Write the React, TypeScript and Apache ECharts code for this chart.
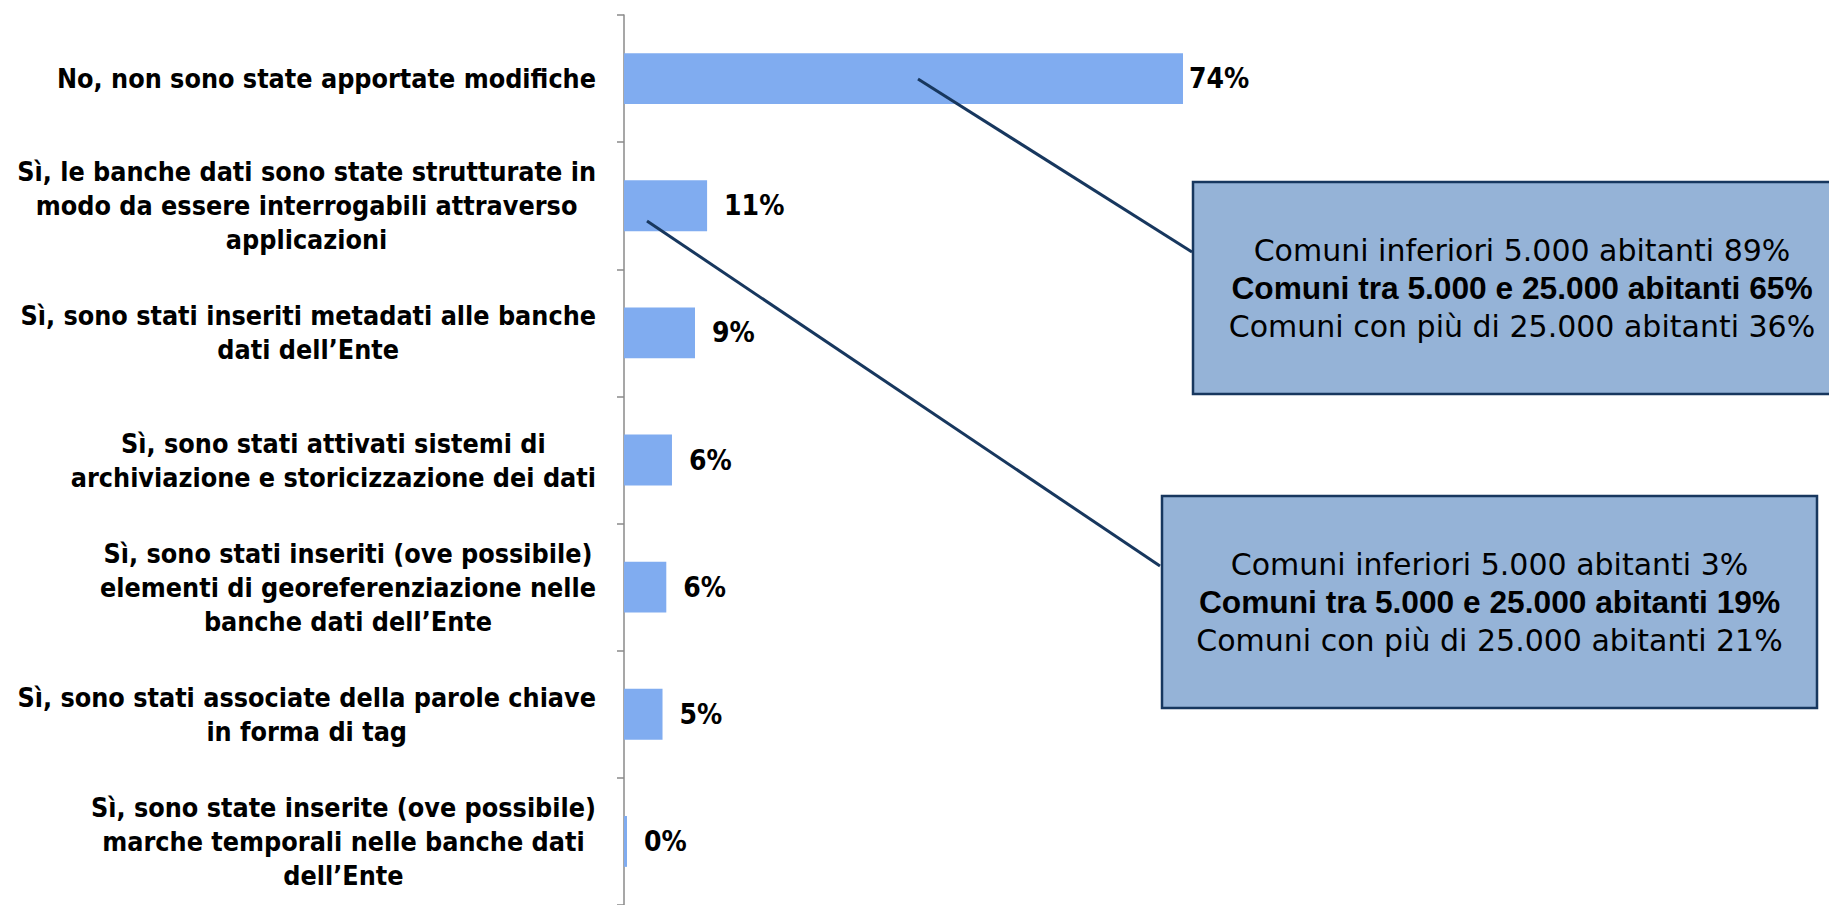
import React, { useEffect, useRef } from "react";
import * as echarts from "echarts";

const categories = [
  "No, non sono state apportate modifiche",
  "Sì, le banche dati sono state strutturate in\nmodo da essere interrogabili attraverso\napplicazioni",
  "Sì, sono stati inseriti metadati alle banche\ndati dell’Ente",
  "Sì, sono stati attivati sistemi di\narchiviazione e storicizzazione dei dati",
  "Sì, sono stati inseriti (ove possibile)\nelementi di georeferenziazione nelle\nbanche dati dell’Ente",
  "Sì, sono stati associate della parole chiave\nin forma di tag",
  "Sì, sono state inserite (ove possibile)\nmarche temporali nelle banche dati\ndell’Ente",
];
const values = [74, 11, 9.4, 6.35, 5.6, 5.1, 0.4];

const groupLabels = [
  "Comuni inferiori 5.000 abitanti",
  "Comuni tra 5.000 e 25.000 abitanti",
  "Comuni con più di 25.000 abitanti",
];
const box1Values = [89, 65, 36];
const box2Values = [3, 19, 21];

const LABEL_FONT = "'DejaVu Sans Condensed', 'DejaVu Sans', sans-serif";
const BOX_FONT = "'DejaVu Sans', sans-serif";
const BOLD_FONT = "'Liberation Sans', Arial, sans-serif";

function boxText(vals: number[]) {
  return vals
    .map((v, i) => (i === 1 ? `{b|${groupLabels[i]} ${v}%}` : `{r|${groupLabels[i]} ${v}%}`))
    .join("\n");
}

const boxRich = {
  r: { fontFamily: BOX_FONT, fontSize: 30, color: "#000", align: "center", lineHeight: 38 },
  b: { fontFamily: BOLD_FONT, fontSize: 31.7, fontWeight: "bold", color: "#000", align: "center", lineHeight: 38 },
};

export default function App() {
  const ref = useRef<HTMLDivElement>(null);
  useEffect(() => {
    if (!ref.current) return;
    const chart = echarts.init(ref.current, undefined, { renderer: "svg" });
    chart.setOption({
      animation: false,
      backgroundColor: "#ffffff",
      grid: { left: 624, top: 15, width: 755.4, height: 894, containLabel: false },
      xAxis: { type: "value", min: 0, max: 100, show: false },
      yAxis: {
        type: "category",
        inverse: true,
        data: categories,
        axisLine: { show: true, lineStyle: { color: "#8a8a8a", width: 1.5 } },
        axisTick: { show: true, length: 7, lineStyle: { color: "#8a8a8a", width: 1.5 } },
        splitLine: { show: false },
        axisLabel: {
          margin: 28,
          align: "right",
          formatter: (v: string) => `{c|${v}}`,
          rich: {
            c: {
              fontFamily: LABEL_FONT,
              fontSize: 26.7,
              fontWeight: "bold",
              color: "#000",
              align: "center",
              lineHeight: 34,
            },
          },
        },
      },
      series: [
        {
          type: "bar",
          barWidth: "40%",
          data: values.map((v, i) => ({
            value: v,
            label: i === 0 ? { distance: 6 } : undefined,
          })),
          itemStyle: { color: "#80acf0" },
          label: {
            show: true,
            position: "right",
            distance: 17,
            formatter: (p: any) => `${Math.round(p.value)}%`,
            fontFamily: LABEL_FONT,
            fontSize: 28,
            fontWeight: "bold",
            color: "#000",
          },
        },
      ],
      graphic: [
        {
          type: "line",
          z: 100,
          shape: { x1: 918, y1: 79, x2: 1192, y2: 252 },
          style: { stroke: "#17375e", lineWidth: 3 },
        },
        {
          type: "line",
          z: 100,
          shape: { x1: 647, y1: 221, x2: 1160, y2: 566 },
          style: { stroke: "#17375e", lineWidth: 3 },
        },
        {
          type: "rect",
          z: 100,
          shape: { x: 1193, y: 182, width: 658, height: 212 },
          style: { fill: "#95b3d7", stroke: "#17375e", lineWidth: 2.5 },
        },
        {
          type: "text",
          z: 101,
          style: {
            x: 1522,
            y: 288,
            text: boxText(box1Values),
            align: "center",
            verticalAlign: "middle",
            rich: boxRich,
          },
        },
        {
          type: "rect",
          z: 100,
          shape: { x: 1162, y: 496, width: 655, height: 212 },
          style: { fill: "#95b3d7", stroke: "#17375e", lineWidth: 2.5 },
        },
        {
          type: "text",
          z: 101,
          style: {
            x: 1489.5,
            y: 602,
            text: boxText(box2Values),
            align: "center",
            verticalAlign: "middle",
            rich: boxRich,
          },
        },
      ],
    });
    return () => chart.dispose();
  }, []);
  return (
    <div
      ref={ref}
      style={{ position: "fixed", left: 0, top: 0, width: 1829, height: 905 }}
    />
  );
}
